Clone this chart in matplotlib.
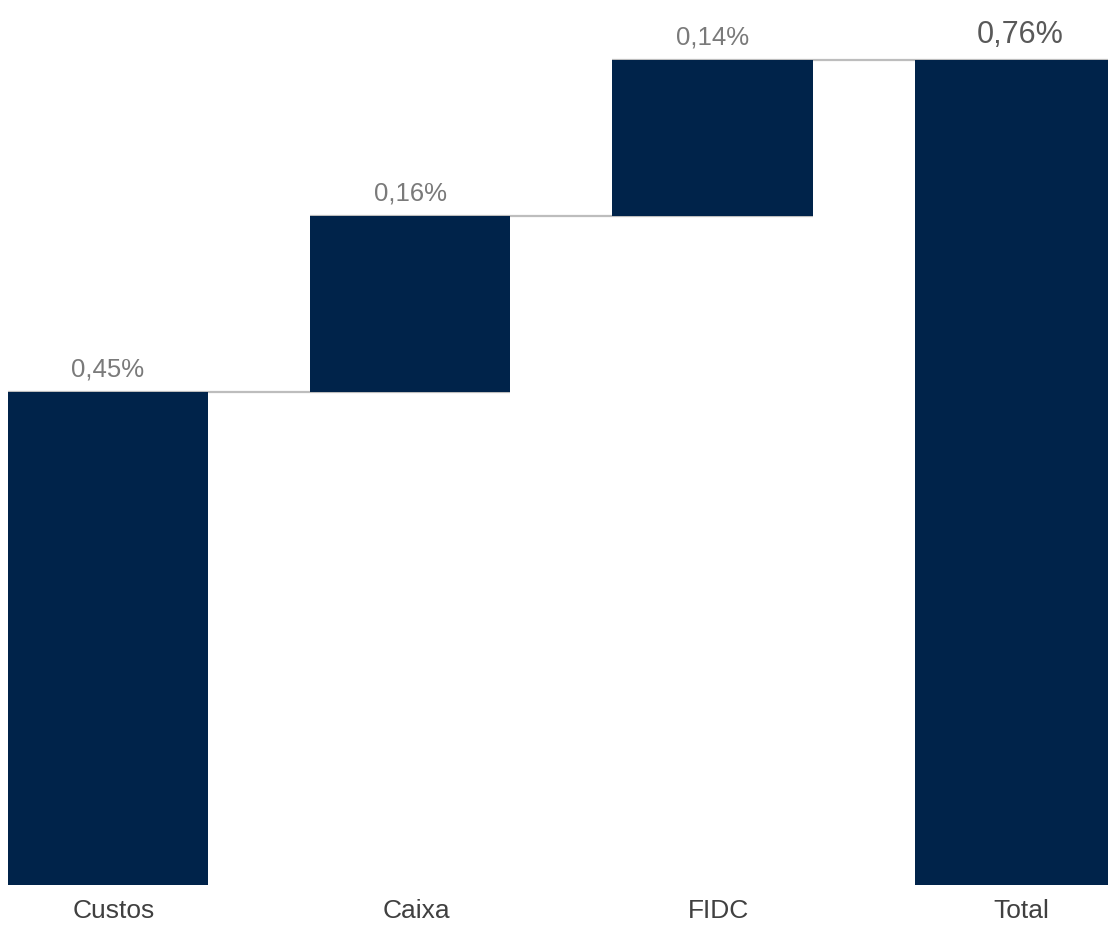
import matplotlib
matplotlib.use("Agg")
import matplotlib.pyplot as plt
from matplotlib.transforms import ScaledTranslation

plt.rcParams['font.family'] = ['Liberation Sans', 'DejaVu Sans']

categories = ["Custos", "Caixa", "FIDC", "Total"]
steps = [0.454, 0.162, 0.144]

total = sum(steps)
values = steps + [total]
bottoms = []
acc = 0.0
for v in steps:
    bottoms.append(acc)
    acc += v
bottoms.append(0.0)
tops = [b + v for b, v in zip(bottoms, values)]

def fmt(v):
    return f"{v:.2f}".replace(".", ",") + "%"

BAR = "#00234A"
fig = plt.figure(figsize=(11.08, 9.26), dpi=100)
ax = fig.add_axes([0, 41/926, 1, 885/926])

x = list(range(len(categories)))
w = 0.662
ax.bar(x, values, bottom=bottoms, width=w, color=BAR, zorder=2)

# connector lines
for i in range(len(categories) - 1):
    ax.plot([x[i] - w/2, x[i+1] + w/2], [tops[i], tops[i]],
            color="#BDBDBD", lw=1.6, zorder=1, solid_capstyle='butt')

for i, (xi, t) in enumerate(zip(x, tops)):
    if i == len(categories) - 1:
        ax.annotate(fmt(values[i]), (xi, t), xytext=(4, 12), textcoords="offset points",
                    ha="center", va="baseline", fontsize=22, color="#595959")
    else:
        ax.annotate(fmt(values[i]), (xi, t), xytext=(0, 11.5), textcoords="offset points",
                    ha="center", va="baseline", fontsize=18.5, color="#7A7A7A")

ax.set_xlim(-0.357, 3.308)
ax.set_ylim(0, 0.76 + 60/1085.5)
ax.set_xticks(x)
ax.set_xticklabels(categories, fontsize=19, color="#404040")
ax.tick_params(axis="x", length=0, pad=10)
ax.set_yticks([])
for s in ax.spines.values():
    s.set_visible(False)
for lab in ax.get_xticklabels():
    lab.set_transform(lab.get_transform() + ScaledTranslation(6/100, 0, fig.dpi_scale_trans))

fig.savefig("out.png", dpi=100)
